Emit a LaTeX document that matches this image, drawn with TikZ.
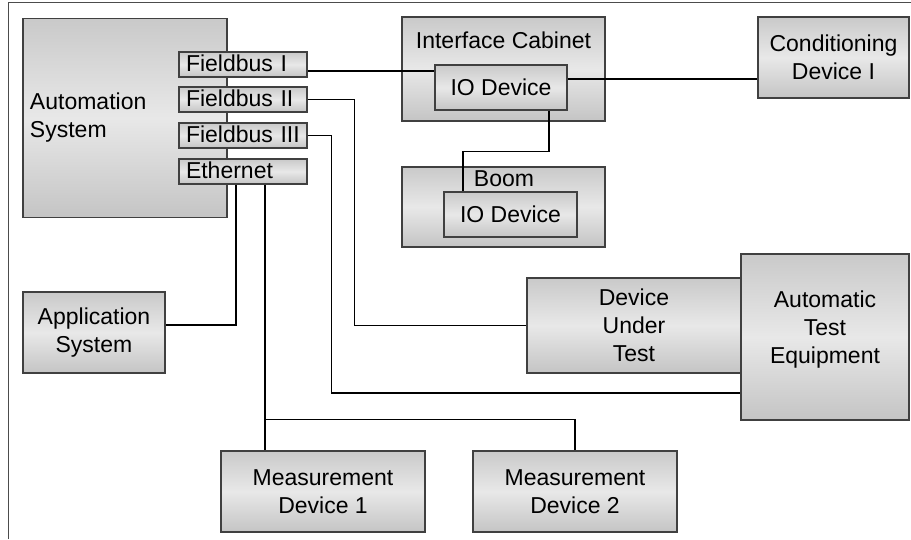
\documentclass[tikz,border=0pt]{standalone}
\usepackage{fontspec}
\setmainfont{Liberation Sans}
\begin{document}
\begin{tikzpicture}[x=1pt,y=-1pt,
  box/.style={draw=black!75, line width=1.1pt, top color=black!21, bottom color=black!23, middle color=black!9,
    align=center, inner sep=0pt, font=\fontsize{23}{28}\selectfont},
  fb/.style={box, minimum width=128pt, minimum height=25pt, text width=114pt, align=left,
    text height=16pt, text depth=3pt},
  txt/.style={inner sep=0pt, font=\fontsize{23}{28}\selectfont},
  wire/.style={line width=1.3pt, black}]
\useasboundingbox (0,0) rectangle (911,539);
% frame
\draw[black!70, line width=1pt] (8,539) -- (8,2.5) -- (911,2.5);
% boxes
\node[box, minimum width=204pt, minimum height=199pt, text width=190pt, align=left] (auto) at (125,118) {Automation\\System};
\node[fb] (fb1) at (243,64.5) {Fieldbus I};
\node[fb] (fb2) at (243,99.5) {Fieldbus II};
\node[fb] (fb3) at (243,135.5) {Fieldbus III};
\node[fb] (eth) at (243,171.5) {Ethernet};
\node[box, minimum width=203pt, minimum height=104pt] (cab) at (503.5,69) {};
\node[txt, anchor=base] (cabt) at (503.5,48) {Interface Cabinet};
\node[box, minimum width=132pt, minimum height=45pt] (iocab) at (501,87.5) {IO Device};
\node[box, minimum width=151pt, minimum height=81pt] (cond) at (833.5,57.5) {Conditioning\\Device I};
\node[box, minimum width=203pt, minimum height=80pt] (boom) at (503.5,207) {};
\node[txt, anchor=base] (boomt) at (504,186) {Boom};
\node[box, minimum width=133pt, minimum height=45pt] (ioboom) at (510.5,214.5) {IO Device};
\node[box, minimum width=142pt, minimum height=81pt] (app) at (94,332.5) {Application\\System};
\node[box, minimum width=214pt, minimum height=95pt] (dut) at (634,325.5) {Device\\Under\\Test};
\node[box, minimum width=168pt, minimum height=166pt] (ate) at (825,337) {Automatic\\Test\\Equipment\\[-8pt]};
\node[box, minimum width=204pt, minimum height=81pt] (md1) at (323,491.5) {Measurement\\Device 1};
\node[box, minimum width=204pt, minimum height=81pt] (md2) at (575,491.5) {Measurement\\Device 2};
% connectors
\coordinate (c1) at ([yshift=-6.5pt]fb1.east);
\draw[wire] (c1) -- (c1 -| iocab.west);
\coordinate (c2) at ([yshift=8.5pt]iocab.east);
\draw[wire] (c2) -- (c2 -| cond.west);
\draw[wire] ([xshift=48pt]iocab.south) -- ++(0,41) -| ([xshift=-47.5pt]ioboom.north);
\draw[wire] (fb2.east) -- ++(47,0) |- (dut.west);
\draw[wire] (fb3.east) -- ++(24,0) |- ([yshift=-56pt]ate.west);
\draw[wire] ([xshift=-7pt]eth.south) |- ([yshift=7.5pt]app.east);
\draw[wire] ([xshift=22pt]eth.south) -- ([xshift=-58pt]md1.north);
\coordinate (j) at ([xshift=-58pt,yshift=31pt]md1.north);
\draw[wire] (j) -| (md2.north);
\end{tikzpicture}
\end{document}
